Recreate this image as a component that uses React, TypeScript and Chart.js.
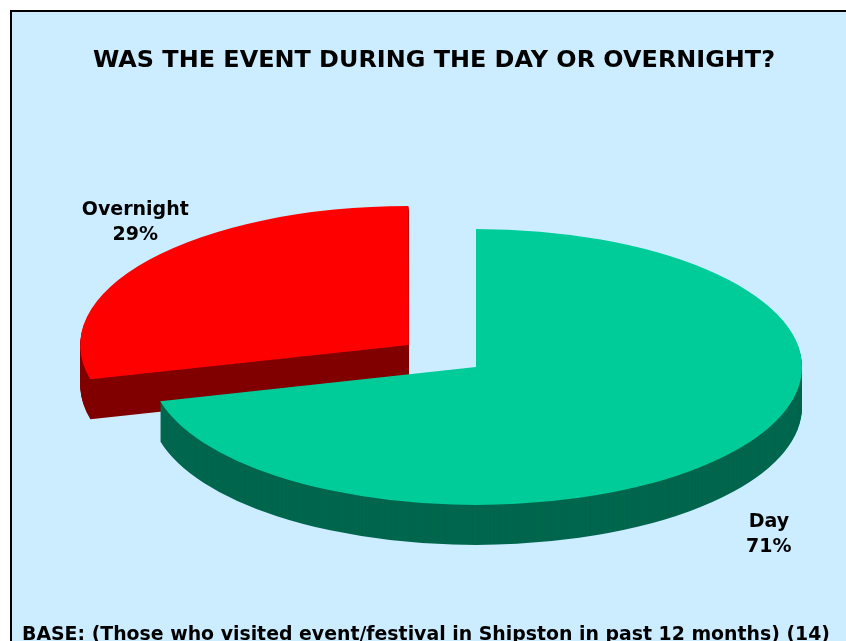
import { useEffect, useRef } from 'react';
import { Chart, registerables } from 'chart.js';

Chart.register(...registerables);

// ---- data ----
const categories = ['Day', 'Overnight'];
const percentages = [71, 29];
const titleText = 'WAS THE EVENT DURING THE DAY OR OVERNIGHT?';
const baseText = 'BASE: (Those who visited event/festival in Shipston in past 12 months) (14)';

// ---- styles ----
const topColors = ['#00CC99', '#FF0000'];
const sideColors = ['#00664D', '#800000'];
const explodeOffsets = [0, 340];
const labelRadius = [1.496, 1.235];
const labelShiftDeg = [15.3, 9.4];
const TILT = 0.423;
const DEPTH = 40;
const FONT = '"DejaVu Sans", Verdana, sans-serif';

function squash(ctx: CanvasRenderingContext2D, el: any) {
  ctx.translate(el.x, el.y);
  ctx.scale(1, TILT);
  ctx.translate(-el.x, -el.y);
}

const pie3d = {
  id: 'pie3d',
  beforeDatasetDraw(chart: any, args: any) {
    const ctx = chart.ctx as CanvasRenderingContext2D;
    const els = args.meta.data;
    for (let i = els.length - 1; i >= 0; i--) {
      const el = els[i];
      const fake = Object.create(el);
      fake.options = { ...el.options, backgroundColor: sideColors[i], borderColor: sideColors[i], borderWidth: 0 };
      for (let d = DEPTH; d >= 1; d--) {
        ctx.save();
        ctx.translate(0, d);
        squash(ctx, el);
        fake.draw(ctx);
        ctx.restore();
      }
    }
    ctx.save();
    squash(ctx, els[0]);
  },
  afterDatasetDraw(chart: any) {
    chart.ctx.restore();
  },
};

function fitText(ctx: CanvasRenderingContext2D, text: string, cx: number, y: number, width: number, size: number) {
  ctx.save();
  ctx.font = `bold ${size}px ${FONT}`;
  const w = ctx.measureText(text).width;
  ctx.translate(cx, y);
  ctx.scale(width / w, 1);
  ctx.textAlign = 'center';
  ctx.textBaseline = 'alphabetic';
  ctx.fillStyle = '#000';
  ctx.fillText(text, 0, 0);
  ctx.restore();
}

const textPlugin = {
  id: 'texts',
  afterDraw(chart: any) {
    const ctx = chart.ctx as CanvasRenderingContext2D;
    fitText(ctx, titleText, 434, 67, 682, 23);
    fitText(ctx, baseText, 426, 640, 808, 19);
    const els = chart.getDatasetMeta(0).data;
    els.forEach((el: any, i: number) => {
      const off = (el.options.offset || 0) / 4;
      const mid = (el.startAngle + el.endAngle) / 2;
      const ox = el.x + Math.cos(mid) * off;
      const oy = el.y + Math.sin(mid) * off * TILT;
      const a = mid + (labelShiftDeg[i] * Math.PI) / 180;
      const R = el.outerRadius;
      const lx = ox + Math.cos(a) * R * labelRadius[i];
      const ly = oy + Math.sin(a) * R * labelRadius[i] * TILT;
      ctx.save();
      ctx.font = `bold 19px ${FONT}`;
      ctx.fillStyle = '#000';
      ctx.textAlign = 'center';
      ctx.textBaseline = 'alphabetic';
      ctx.fillText(categories[i], lx, ly - 5);
      ctx.fillText(`${percentages[i]}%`, lx, ly + 20);
      ctx.restore();
    });
  },
};

export default function App() {
  const ref = useRef<HTMLCanvasElement | null>(null);
  useEffect(() => {
    if (!ref.current) return;
    const chart = new Chart(ref.current, {
      type: 'pie',
      data: {
        labels: categories,
        datasets: [
          {
            data: percentages,
            backgroundColor: topColors,
            borderWidth: 0,
            offset: explodeOffsets,
            clip: false,
          } as any,
        ],
      },
      options: {
        responsive: false,
        animation: false,
        devicePixelRatio: 1,
        radius: 326,
        layout: { padding: { left: 150, right: 44, top: 150, bottom: 57 } },
        plugins: {
          legend: { display: false },
          title: { display: false },
          tooltip: { enabled: false },
        },
        events: [],
      } as any,
      plugins: [pie3d, textPlugin],
    });
    return () => chart.destroy();
  }, []);

  return (
    <div style={{ position: 'fixed', left: 0, top: 0, width: 846, height: 641, overflow: 'hidden', background: '#fff' }}>
      <div
        style={{
          position: 'absolute',
          left: 10,
          top: 10,
          width: 900,
          height: 700,
          background: '#CCECFF',
          borderLeft: '2px solid #000',
          borderTop: '2px solid #000',
        }}
      />
      <canvas ref={ref} width={846} height={641} style={{ position: 'absolute', left: 0, top: 0 }} />
    </div>
  );
}
